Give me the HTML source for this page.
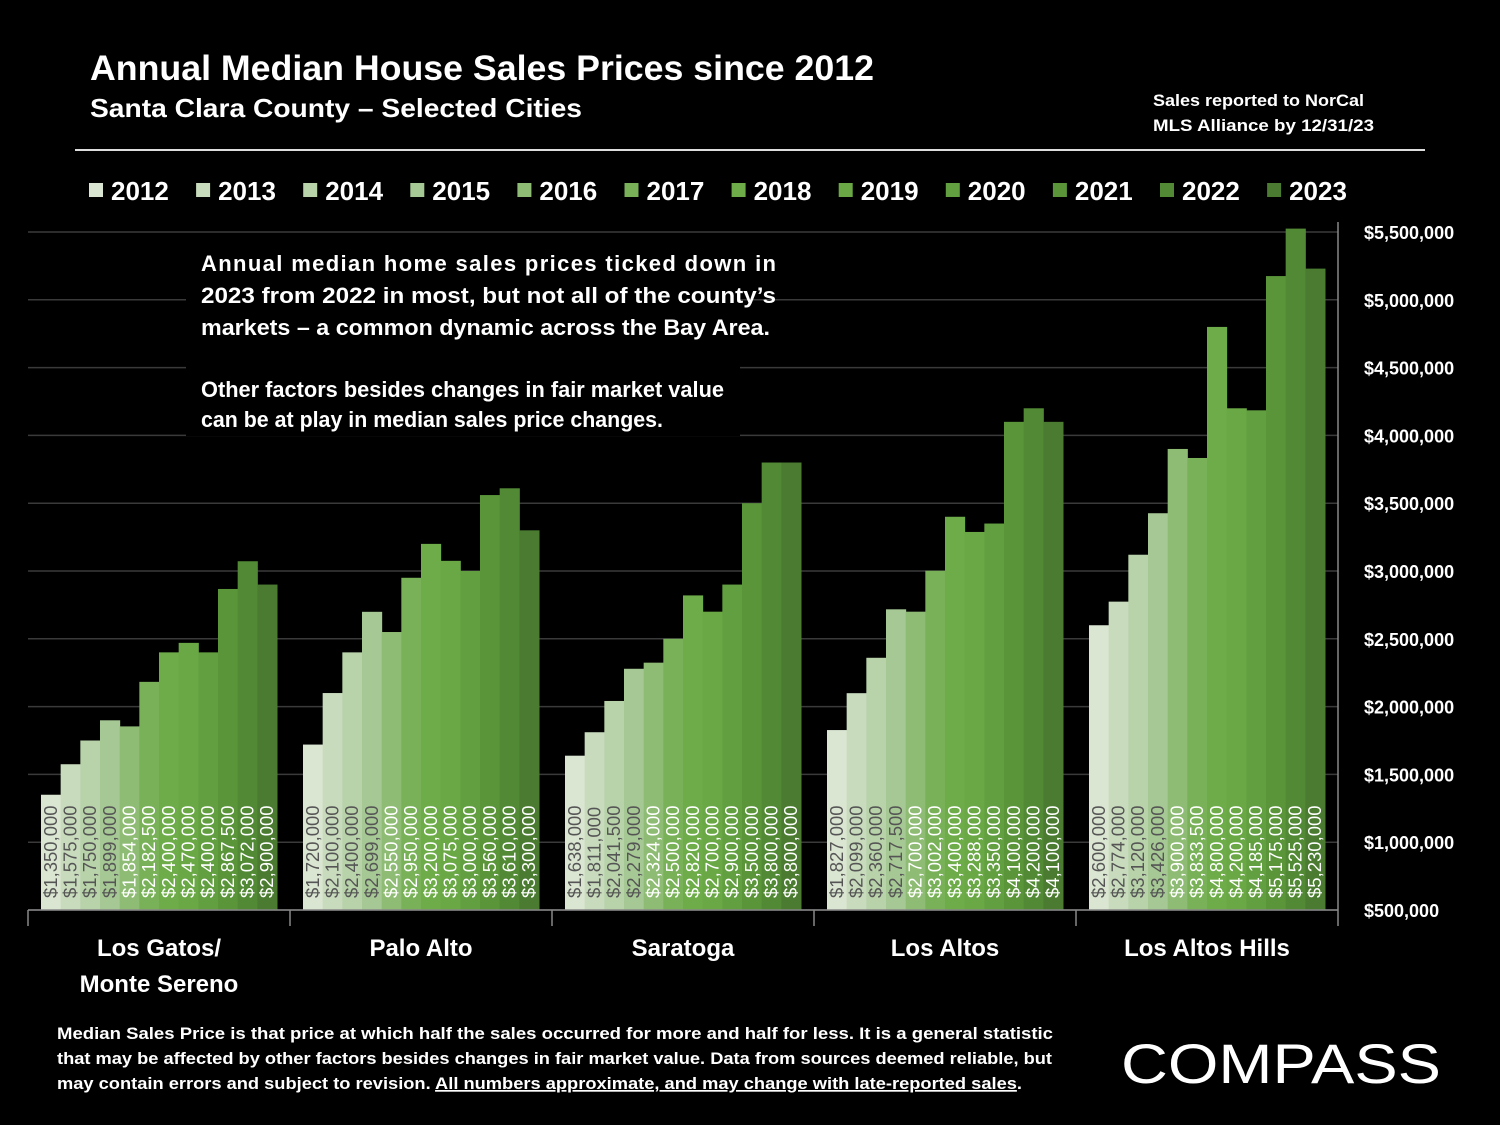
<!DOCTYPE html>
<html><head><meta charset="utf-8"><style>
html,body{margin:0;padding:0;background:#000;}
svg{display:block;font-family:"Liberation Sans",sans-serif;}
</style></head><body>
<svg id="chart" width="1500" height="1125" viewBox="0 0 1500 1125">
<rect width="1500" height="1125" fill="#000"/>
<text x="90" y="80" fill="#fff" font-size="35" font-weight="bold" textLength="784" lengthAdjust="spacingAndGlyphs">Annual Median House Sales Prices since 2012</text>
<text x="90" y="117" fill="#fff" font-size="26" font-weight="bold" textLength="492" lengthAdjust="spacingAndGlyphs">Santa Clara County – Selected Cities</text>
<text x="1153" y="106" fill="#fff" font-size="17" font-weight="bold" textLength="211" lengthAdjust="spacingAndGlyphs">Sales reported to NorCal</text>
<text x="1153" y="131" fill="#fff" font-size="17" font-weight="bold" textLength="221" lengthAdjust="spacingAndGlyphs">MLS Alliance by 12/31/23</text>
<line x1="75" y1="150" x2="1425" y2="150" stroke="#ddd" stroke-width="2"/>
<g id="grid"></g>
<g id="bars"></g>
<g id="legend"></g>
<g id="axes"></g>
<rect x="186" y="244" width="554" height="192" fill="#000"/>
<g font-size="22" font-weight="bold" fill="#fff">
<text x="201" y="271" textLength="575" lengthAdjust="spacing">Annual median home sales prices ticked down in</text>
<text x="201" y="303" textLength="575" lengthAdjust="spacingAndGlyphs">2023 from 2022 in most, but not all of the county’s</text>
<text x="201" y="335" textLength="569" lengthAdjust="spacingAndGlyphs">markets – a common dynamic across the Bay Area.</text>
<text x="201" y="397" textLength="523" lengthAdjust="spacingAndGlyphs">Other factors besides changes in fair market value</text>
<text x="201" y="427" textLength="462" lengthAdjust="spacingAndGlyphs">can be at play in median sales price changes.</text>
</g>
<g font-size="17" font-weight="bold" fill="#fff">
<text x="57" y="1039" textLength="996" lengthAdjust="spacingAndGlyphs">Median Sales Price is that price at which half the sales occurred for more and half for less. It is a general statistic</text>
<text x="57" y="1064" textLength="995" lengthAdjust="spacingAndGlyphs">that may be affected by other factors besides changes in fair market value. Data from sources deemed reliable, but</text>
<text x="57" y="1089" textLength="965" lengthAdjust="spacingAndGlyphs">may contain errors and subject to revision.  <tspan text-decoration="underline">All numbers approximate, and may change with late-reported sales</tspan>.</text>
</g>
<text x="1121" y="1083" fill="#fff" font-size="56" textLength="320" lengthAdjust="spacingAndGlyphs">COMPASS</text>
</svg>
<script>
const categories=["Los Gatos/|Monte Sereno","Palo Alto","Saratoga","Los Altos","Los Altos Hills"];
const years=["2012","2013","2014","2015","2016","2017","2018","2019","2020","2021","2022","2023"];
const losGatos=[1350000,1575000,1750000,1899000,1854000,2182500,2400000,2470000,2400000,2867500,3072000,2900000];
const paloAlto=[1720000,2100000,2400000,2699000,2550000,2950000,3200000,3075000,3000000,3560000,3610000,3300000];
const saratoga=[1638000,1811000,2041500,2279000,2324000,2500000,2820000,2700000,2900000,3500000,3800000,3800000];
const losAltos=[1827000,2099000,2360000,2717500,2700000,3002000,3400000,3288000,3350000,4100000,4200000,4100000];
const losAltosHills=[2600000,2774000,3120000,3426000,3900000,3833500,4800000,4200000,4185000,5175000,5525000,5230000];
const yTicks=[500000,1000000,1500000,2000000,2500000,3000000,3500000,4000000,4500000,5000000,5500000];
const series=[losGatos,paloAlto,saratoga,losAltos,losAltosHills];
const colors=["#dae5d2","#c8dbbd","#b8d2a9","#a6c894","#8fbc74","#79b158","#6dac49","#69a845","#629f40","#5a953a","#518935","#4a7b30"];
const NS="http://www.w3.org/2000/svg";
const X0=28,X1=1338,YB=910,YT=232,VMIN=500000,VMAX=5500000;
function y(v){return YB-(v-VMIN)/(VMAX-VMIN)*(YB-YT);}
const gw=(X1-X0)/categories.length, pad=13, bw=(gw-2*pad)/years.length;
function mk(tag,attrs,parent){const e=document.createElementNS(NS,tag);for(const k in attrs)e.setAttribute(k,attrs[k]);parent.appendChild(e);return e;}
const grid=document.getElementById('grid'),bars=document.getElementById('bars'),leg=document.getElementById('legend'),axes=document.getElementById('axes');
yTicks.forEach(t=>{
 const l=mk('line',{x1:X0,x2:X1,y1:y(t),y2:y(t),stroke:'#3a3a3a','stroke-width':1.5},grid);
 
 
 const tx=mk('text',{x:1364,y:y(t)+7,fill:'#fff','font-size':18,'font-weight':'bold'},axes);
 tx.textContent='$'+t.toLocaleString('en-US');
 
 
});
series.forEach((vals,g)=>{
 vals.forEach((v,i)=>{
  const bx=X0+g*gw+pad+i*bw;
  const r=mk('rect',{x:bx,y:y(v),width:bw+0.5,height:YB-y(v),fill:colors[i]},bars);
  
  
  const cx=bx+bw/2+6, cy=898;
  const t=mk('text',{x:cx,y:cy,transform:`rotate(-90 ${cx} ${cy})`,fill:i<4?'#555':'#fff','font-size':18.5},bars);
  t.textContent='$'+v.toLocaleString('en-US');
  
  
 });
 const parts=categories[g].split('|');
 parts.forEach((p,k)=>{
  const t=mk('text',{x:X0+g*gw+gw/2,y:956+k*36,fill:'#fff','font-size':24,'font-weight':'bold','text-anchor':'middle'},axes);
  t.textContent=p;
  
  
 });
});
const ax=mk('line',{x1:X0,x2:X1,y1:YB,y2:YB,stroke:'#888','stroke-width':1.5},axes);


const ay=mk('line',{x1:X1,x2:X1,y1:YT-10,y2:YB,stroke:'#888','stroke-width':1.5},axes);


for(let g=0;g<=categories.length;g++){
 const tk=mk('line',{x1:X0+g*gw,x2:X0+g*gw,y1:YB,y2:YB+16,stroke:'#888','stroke-width':1.5},axes);
 
 
}
years.forEach((yr,i)=>{
 const lx=89+i*107.1;
 const sq=mk('rect',{x:lx,y:183,width:14,height:14,fill:colors[i]},leg);
 
 
 const t=mk('text',{x:lx+22,y:200,fill:'#fff','font-size':26,'font-weight':'bold'},leg);
 t.textContent=yr;
 
 
});
</script>
</body></html>
